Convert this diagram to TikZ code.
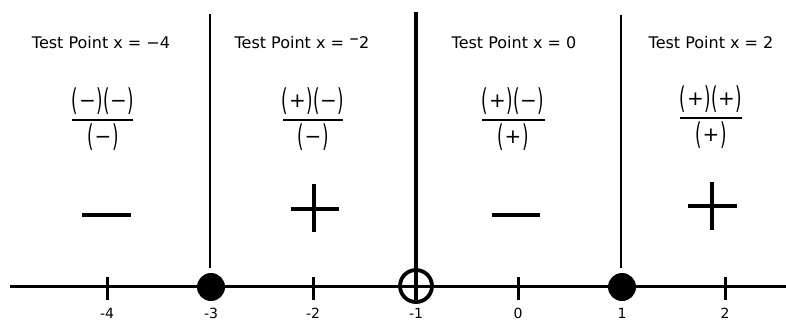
\documentclass[tikz,border=0pt]{standalone}
\usepackage{fontspec}
\setmainfont{DejaVu Sans}
\usepackage{graphicx}
\newcommand\lpar{\raisebox{-0.3em}{\scalebox{1.1}[2]{(}}}
\newcommand\rpar{\raisebox{-0.3em}{\scalebox{1.1}[2]{)}}}
\newcommand\grp[1]{\lpar\kern0.8pt\raisebox{-1.6pt}{\fontsize{20}{20}\selectfont #1}\kern0.8pt\rpar}
\newcommand\upminus{\raisebox{0.22em}{\scalebox{0.75}[1]{−}}}
\begin{document}
\begin{tikzpicture}[x=1pt,y=-1pt,
  head/.style={font=\fontsize{16}{19}\selectfont, anchor=base, inner sep=0pt},
  fracpart/.style={font=\fontsize{15}{18}\selectfont, inner sep=0pt},
  lab/.style={font=\fontsize{14}{17}\selectfont, anchor=base, inner sep=0pt},
  axisline/.style={line width=3pt},
  sepline/.style={line width=2pt},
  septhick/.style={line width=3.5pt},
  fracbar/.style={line width=1.6pt},
  minussign/.style={line width=4pt},
  plussign/.style={line width=3.3pt},
  tickmark/.style={line width=3pt},
  dot/.style={circle, fill=black, minimum size=28pt, inner sep=0pt},
  ring/.style={circle, draw=black, line width=3.8pt, minimum size=32pt, inner sep=0pt}]
\useasboundingbox (0,0) rectangle (786,322);
\fill[white] (0,0) rectangle (786,322);

% axis
\coordinate (axL) at (10,286);
\coordinate (axR) at (786,286);
\draw[axisline] (axL) -- (axR);

% ticks
\foreach \x in {107,313,518,725}{
  \draw[tickmark] (\x,277) -- (\x,300);
}

% critical points
\node[dot] (pm3) at (211,287) {};
\node[dot] (pp1) at (622,287) {};
\node[ring] (pm1) at (416,286) {};

% separators
\coordinate (sA) at (210,14);
\coordinate (sAb) at (210,268);
\draw[sepline] (sA) -- (sAb);
\coordinate (sB) at (416,12);
\draw[septhick] (sB) -- (pm1.south);
\coordinate (sC) at (621,15);
\coordinate (sCb) at (621,268);
\draw[sepline] (sC) -- (sCb);

% tick labels
\node[lab] (lm4) at (107,318) {-4};
\node[lab] (lm3) at (211,318) {-3};
\node[lab] (lm2) at (313,318) {-2};
\node[lab] (lm1) at (416,318) {-1};
\node[lab] (lz0) at (518,318) {0};
\node[lab] (lp1) at (622,318) {1};
\node[lab] (lp2) at (725,318) {2};

% headers
\node[head] (h1) at (101,48) {Test Point x = −4};
\node[head] (h2) at (302,48) {Test Point x = \upminus2};
\node[head] (h3) at (514,48) {Test Point x = 0};
\node[head] (h4) at (711,48) {Test Point x = 2};

% fractions
\node[fracpart] (n1) at (103,101) {\grp{−}\grp{−}};
\node[fracpart] (d1) at (103,137) {\grp{−}};
\draw[fracbar] (72,120) -- (133,120);

\node[fracpart] (n2) at (313,101) {\grp{+}\grp{−}};
\node[fracpart] (d2) at (313,137) {\grp{−}};
\draw[fracbar] (283,120) -- (343,120);

\node[fracpart] (n3) at (513,101) {\grp{+}\grp{−}};
\node[fracpart] (d3) at (513,137) {\grp{+}};
\draw[fracbar] (482,120) -- (545,120);

\node[fracpart] (n4) at (711,99) {\grp{+}\grp{+}};
\node[fracpart] (d4) at (711,135) {\grp{+}};
\draw[fracbar] (680,118) -- (742,118);

% result signs
\draw[minussign] (82,215) -- (131,215);
\draw[plussign] (291,209) -- (339,209);
\draw[plussign] (314,184) -- (314,232);
\draw[minussign] (492,215) -- (540,215);
\draw[plussign] (688,206) -- (737,206);
\draw[plussign] (712,182) -- (712,230);
\end{tikzpicture}
\end{document}
